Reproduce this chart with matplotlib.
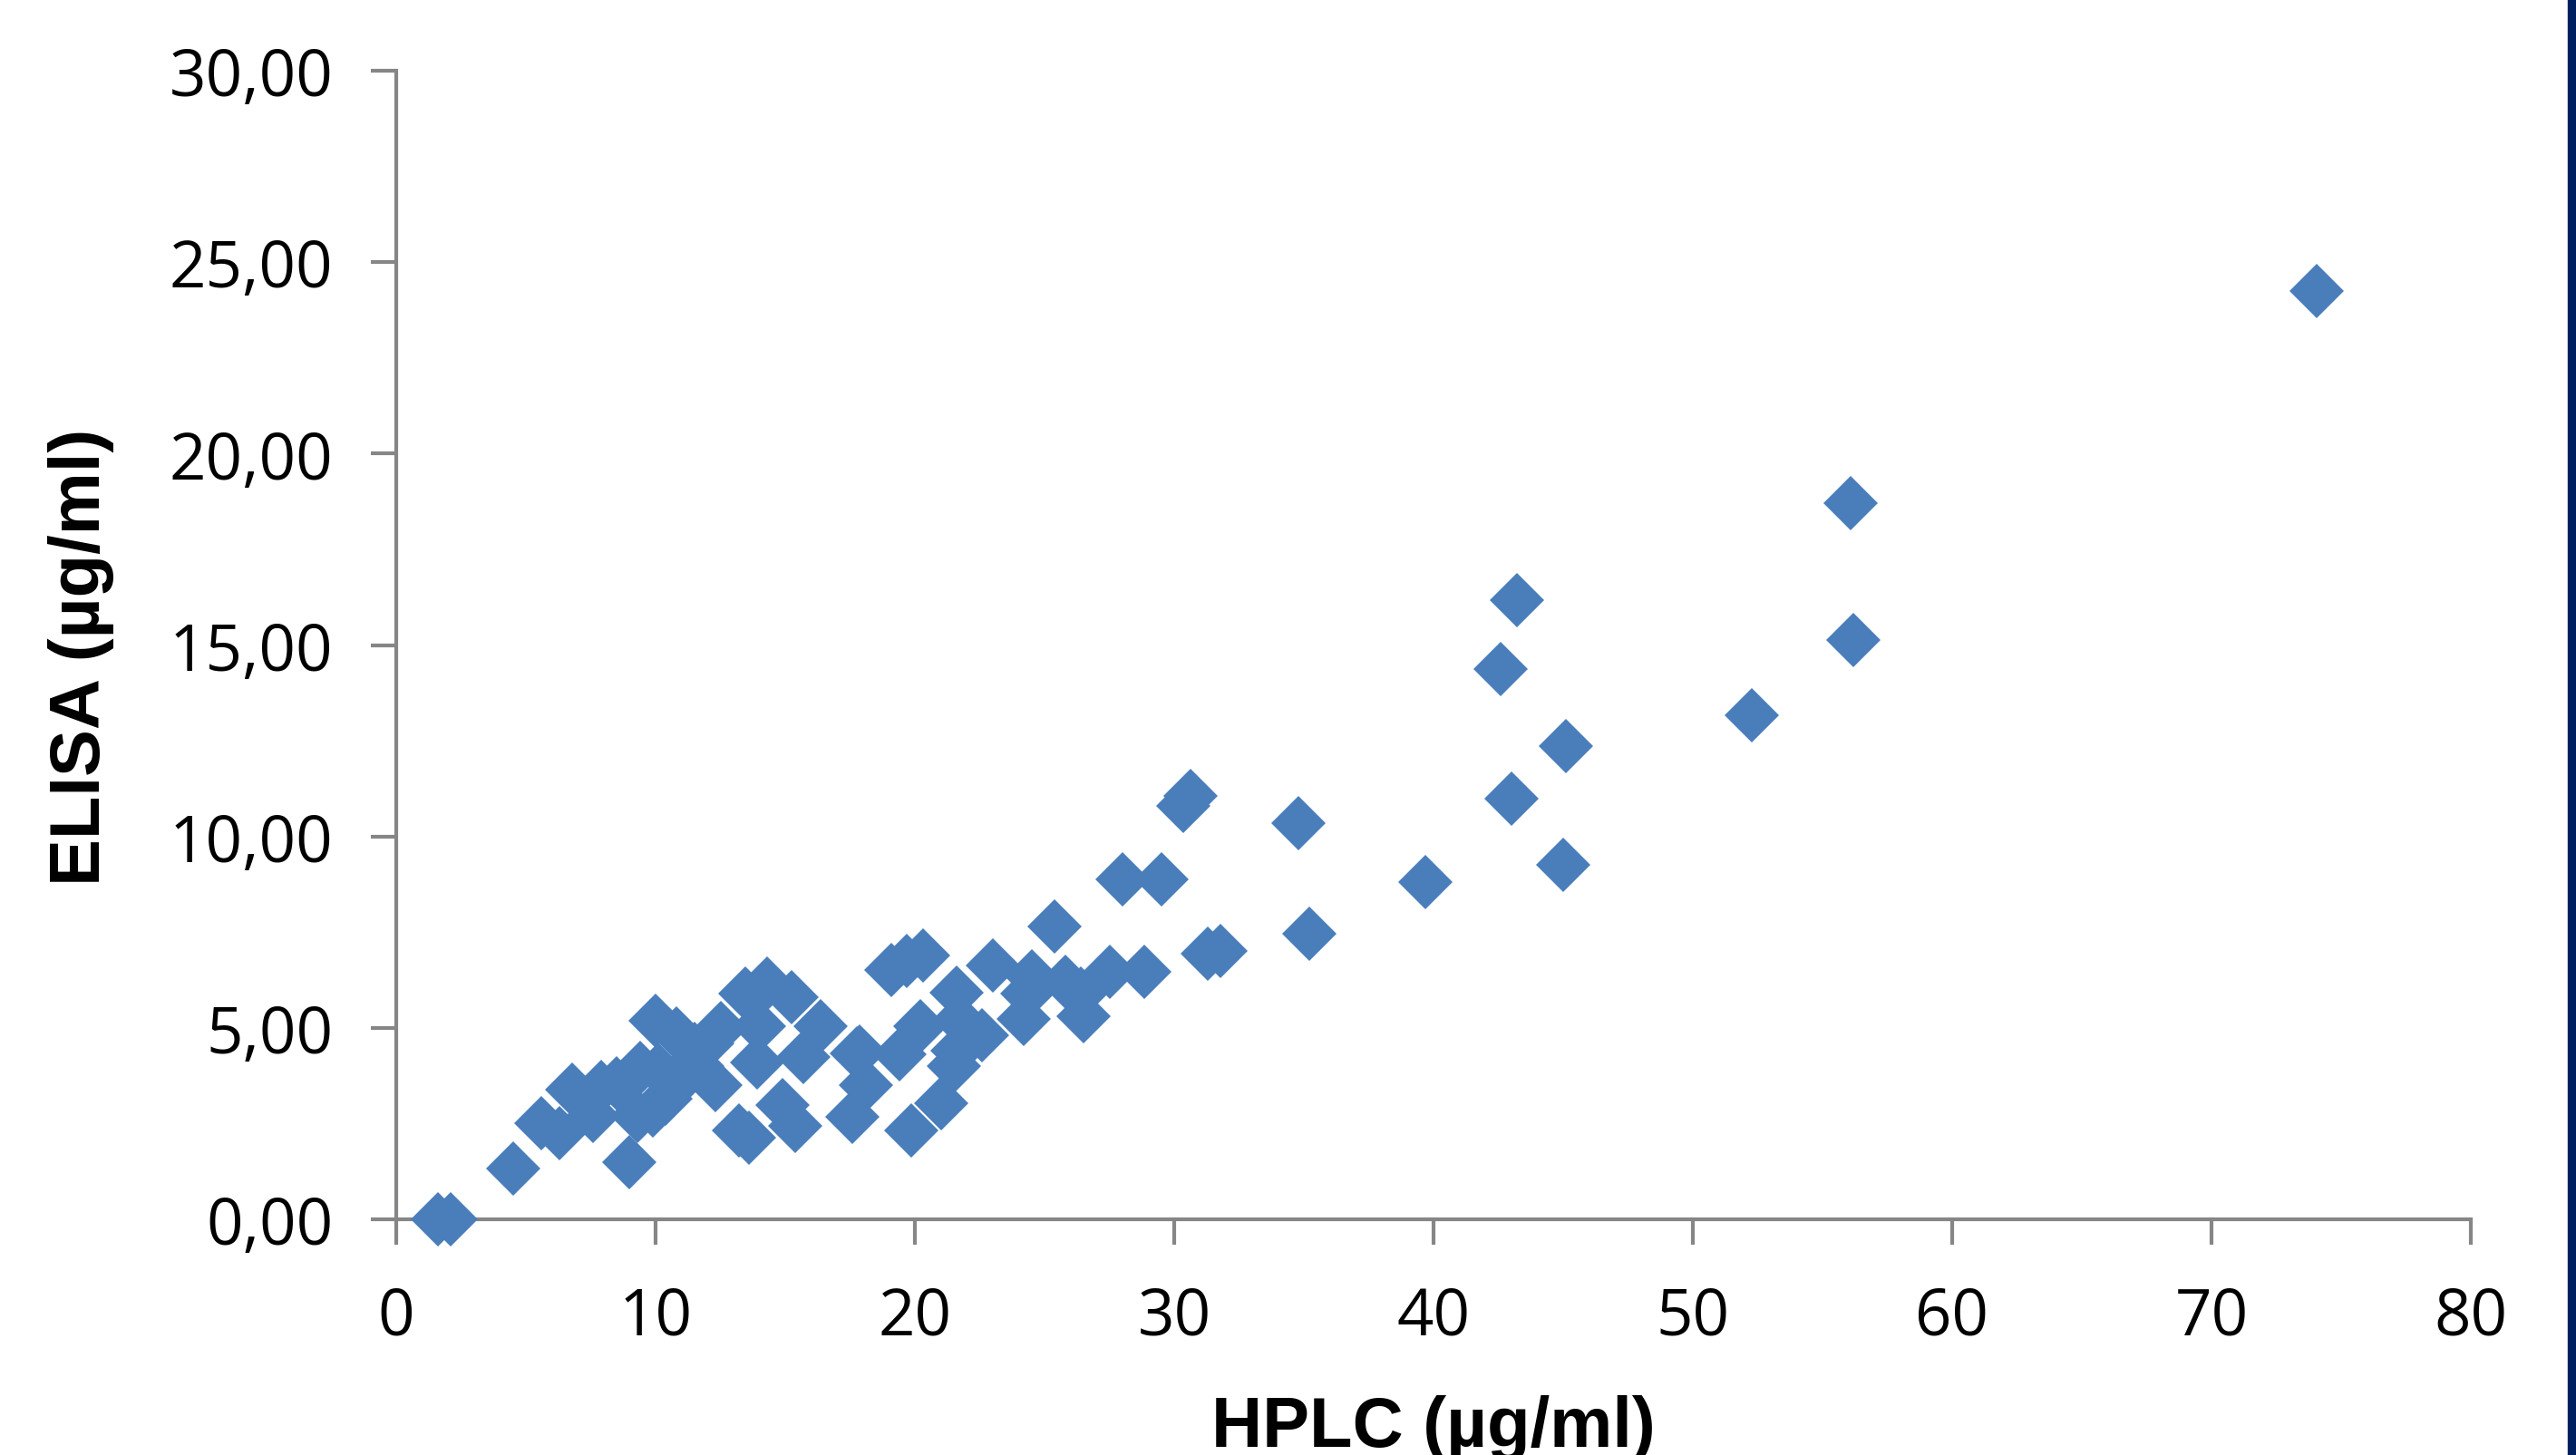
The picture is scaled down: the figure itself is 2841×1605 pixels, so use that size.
import matplotlib
matplotlib.use("Agg")
import matplotlib.pyplot as plt
from matplotlib.patches import Rectangle
from matplotlib.ticker import FuncFormatter

# HPLC vs ELISA readings (µg/ml)
hplc = [1.6, 2.1, 4.5, 9.0,
        5.6, 6.3, 6.8, 7.9, 7.6, 9.4, 10.0, 9.3, 9.9, 10.4, 8.5, 10.1, 10.8,
        12.3, 13.2, 13.6, 15.4, 14.9, 13.9, 14.3, 13.45, 15.25, 16.36, 15.7,
        12.5, 12.0, 11.5, 11.2, 14.0, 17.75, 18.1, 17.6, 10.9, 11.6,
        19.1, 19.7, 20.3, 23.0, 24.5, 25.4, 26.5, 24.2, 25.8, 26.4, 24.35,
        22.6, 21.6, 21.7, 21.66, 20.2, 17.85, 19.4, 21.5, 21.0, 19.85,
        27.5, 28.85, 28.0, 29.5, 30.35, 30.63, 31.3, 31.8, 34.8, 35.2, 39.7,
        42.57, 43.2, 43.0, 45.1, 45.0, 52.27, 56.07, 56.2, 74.07]
elisa = [0.0, 0.0, 1.32, 1.5,
         2.5, 2.25, 3.38, 3.46, 2.71, 3.95, 5.18, 2.7, 2.85, 3.15, 3.55, 3.9, 4.85,
         3.5, 2.32, 2.12, 2.43, 2.98, 4.09, 6.16, 5.9, 5.81, 5.04, 4.25,
         5.0, 4.6, 4.44, 3.93, 5.05, 4.33, 3.5, 2.67, 3.6, 4.0,
         6.5, 6.75, 6.9, 6.62, 6.34, 7.64, 5.31, 5.23, 6.2, 5.9, 5.9,
         4.8, 5.92, 5.2, 4.41, 5.05, 4.37, 4.3, 4.0, 3.02, 2.31,
         6.46, 6.46, 8.89, 8.89, 10.8, 11.05, 6.93, 7.01, 10.34, 7.45, 8.81,
         14.37, 16.17, 10.98, 12.35, 9.26, 13.17, 18.7, 15.14, 24.24]

x_ticks = [0, 10, 20, 30, 40, 50, 60, 70, 80]
y_ticks = [0, 5, 10, 15, 20, 25, 30]

W, H = 2841, 1606
fig = plt.figure(figsize=(W / 100, H / 100), dpi=100)
ax = fig.add_axes([437 / W, 1 - 1346 / H, (2725 - 437) / W, (1346 - 79) / H])

ax.plot(hplc, elisa, ls="none", marker="D", ms=31, mew=0, color="#4A7EBB",
        clip_on=False, zorder=3)

ax.set_xlim(0, 80)
ax.set_ylim(0, 30)
ax.set_xticks(x_ticks)
ax.set_yticks(y_ticks)
ax.yaxis.set_major_formatter(FuncFormatter(lambda v, p: f"{v:.2f}".replace(".", ",")))

grey = "#868686"
for s in ["top", "right"]:
    ax.spines[s].set_visible(False)
for s in ["left", "bottom"]:
    ax.spines[s].set_color(grey)
    ax.spines[s].set_linewidth(3)
    ax.spines[s].set_zorder(2)

ax.tick_params(axis="both", direction="out", length=20, width=3, color=grey,
               labelsize=51, labelcolor="black")
ax.tick_params(axis="y", pad=30)
ax.tick_params(axis="x", pad=32)
for lab in ax.get_xticklabels() + ax.get_yticklabels():
    lab.set_family(["Open Sans", "DejaVu Sans"])

ax.set_xlabel("HPLC (µg/ml)", fontsize=56, fontweight="bold",
              family=["Liberation Sans", "DejaVu Sans"], va="baseline")
ax.xaxis.set_label_coords(0.5, -0.197)
ax.set_ylabel("ELISA (µg/ml)", fontsize=56, fontweight="bold",
              family=["Liberation Sans", "DejaVu Sans"], va="center")
ax.yaxis.set_label_coords(-0.152, 0.49)

# navy strip on the right edge
fig.patches.append(Rectangle((2832 / W, 0), 1 - 2832 / W, 1, transform=fig.transFigure,
                             color="#00205F", zorder=5))

fig.savefig("out.png", dpi=100)
